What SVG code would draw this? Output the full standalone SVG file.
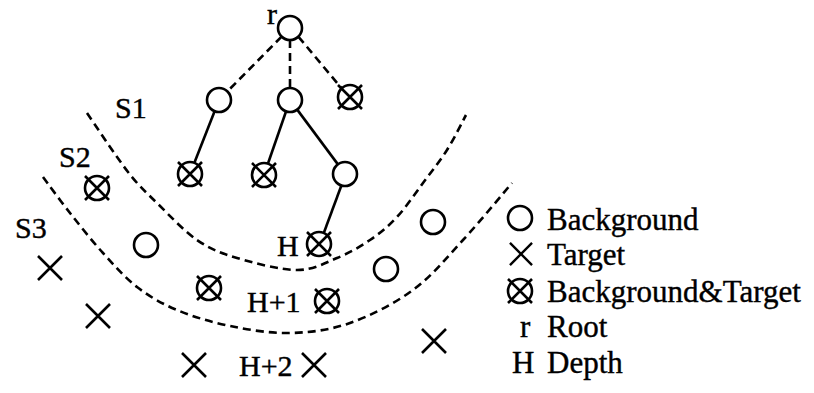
<svg xmlns="http://www.w3.org/2000/svg" xmlns:xlink="http://www.w3.org/1999/xlink" width="814" height="393" viewBox="0 0 814 393">
  <style>
    .sym { fill: none; stroke: #000; stroke-width: 2.6; }
    .edge { fill: none; stroke: #000; stroke-width: 2.6; }
    .dash { stroke-dasharray: 8 5; }
    .bound { fill: none; stroke: #000; stroke-width: 2.6; stroke-dasharray: 8 5; }
    .lbl { font-family: "Liberation Serif", "Times New Roman", serif; font-size: 30px; fill: #000; stroke: #000; stroke-width: 0.4; }
    .leg { font-family: "Liberation Serif", "Times New Roman", serif; font-size: 31px; fill: #000; stroke: #000; stroke-width: 0.4; }
  </style>
  <defs>
    <!-- background node: plain circle -->
    <g id="bg"><circle class="sym" cx="0" cy="0" r="12"/></g>
    <!-- target node: cross -->
    <g id="tg"><path class="sym" d="M-12,-12 L12,12 M12,-12 L-12,12"/></g>
    <!-- background & target node: circle with cross -->
    <g id="bgt"><circle class="sym" cx="0" cy="0" r="12"/><path class="sym" d="M-12,-12 L12,12 M12,-12 L-12,12"/></g>
  </defs>
  <rect width="814" height="393" fill="#fff"/>

  <!-- layer boundaries -->
  <g id="boundaries">
    <path class="bound" d="M87,113 C93.8,122.8 116.3,157 128,172 C139.7,187 145.5,191.7 157,203 C168.5,214.3 183.7,230.8 197,240 C210.3,249.2 220.3,253 237,258 C253.7,263 280.3,270 297,270 C313.7,270 324.8,263 337,258 C349.2,253 360,246.8 370,240 C380,233.2 388.2,226.5 397,217 C405.8,207.5 414.7,194.2 423,183 C431.3,171.8 439.8,161.3 447,150 C454.2,138.7 462.8,120.8 466,115"/>
    <path class="bound" d="M43,177 C47.5,183 60,200.3 70,213 C80,225.7 91.8,240.7 103,253 C114.2,265.3 124.7,277.5 137,287 C149.3,296.5 161.5,303.5 177,310 C192.5,316.5 211.2,322.2 230,326 C248.8,329.8 270,333.5 290,333 C310,332.5 329.5,330.2 350,323 C370.5,315.8 394.2,303.8 413,290 C431.8,276.2 446.5,257.8 463,240 C479.5,222.2 503.8,192.5 512,183"/>
  </g>

  <!-- tree connectors -->
  <g id="connectors">
    <line class="edge dash" x1="281.6" y1="36.6" x2="227.4" y2="91.4"/>
    <line class="edge dash" x1="290" y1="40" x2="290" y2="88"/>
    <line class="edge dash" x1="298.5" y1="36.8" x2="341.5" y2="88.2"/>
    <line class="edge" x1="214.6" y1="111.2" x2="194.4" y2="162.8"/>
    <line class="edge" x1="286.1" y1="111.3" x2="267.9" y2="163.7"/>
    <line class="edge" x1="297.2" y1="109.6" x2="338.3" y2="164.9"/>
    <line class="edge" x1="341.3" y1="185.7" x2="323.7" y2="233.3"/>
  </g>

  <!-- tree nodes -->
  <g id="root"><use href="#bg" x="290" y="28"/></g>
  <g id="n1a"><use href="#bg" x="219" y="100"/></g>
  <g id="n1b"><use href="#bg" x="290" y="100"/></g>
  <g id="n1c"><use href="#bgt" x="350" y="97"/></g>
  <g id="n2a"><use href="#bgt" x="190" y="174"/></g>
  <g id="n2b"><use href="#bgt" x="264" y="175"/></g>
  <g id="n2c"><use href="#bg" x="345" y="174"/></g>
  <g id="n3"><use href="#bgt" x="319" y="244"/></g>

  <!-- scattered samples -->
  <g id="p1"><use href="#bgt" x="97" y="188"/></g>
  <g id="p2"><use href="#bg" x="146" y="245"/></g>
  <g id="p3"><use href="#bg" x="433" y="222"/></g>
  <g id="p4"><use href="#bg" x="386" y="269"/></g>
  <g id="p5"><use href="#bgt" x="209" y="288"/></g>
  <g id="p6"><use href="#bgt" x="327" y="301"/></g>
  <g id="t1"><use href="#tg" x="50" y="268"/></g>
  <g id="t2"><use href="#tg" x="98" y="316"/></g>
  <g id="t3"><use href="#tg" x="434" y="341"/></g>
  <g id="t4"><use href="#tg" x="194" y="365"/></g>
  <g id="t5"><use href="#tg" x="314" y="365"/></g>

  <!-- labels -->
  <g id="labels">
    <text class="lbl" x="267" y="24">r</text>
    <text class="lbl" x="115" y="118">S1</text>
    <text class="lbl" x="59" y="167">S2</text>
    <text class="lbl" x="15" y="238">S3</text>
    <text class="lbl" x="277" y="256">H</text>
    <text class="lbl" x="247" y="312">H+1</text>
    <text class="lbl" x="239" y="376">H+2</text>
  </g>

  <!-- legend -->
  <g id="legend">
    <use href="#bg" x="520" y="218"/>
    <text class="leg" x="547" y="230">Background</text>
    <g transform="translate(521,254) scale(0.92)"><use href="#tg"/></g>
    <text class="leg" x="547" y="265">Target</text>
    <use href="#bgt" x="520" y="291"/>
    <text class="leg" x="547" y="302">Background&amp;Target</text>
    <text class="leg" x="520" y="337">r</text>
    <text class="leg" x="547" y="337">Root</text>
    <text class="leg" x="512" y="373">H</text>
    <text class="leg" x="547" y="373">Depth</text>
  </g>
</svg>
